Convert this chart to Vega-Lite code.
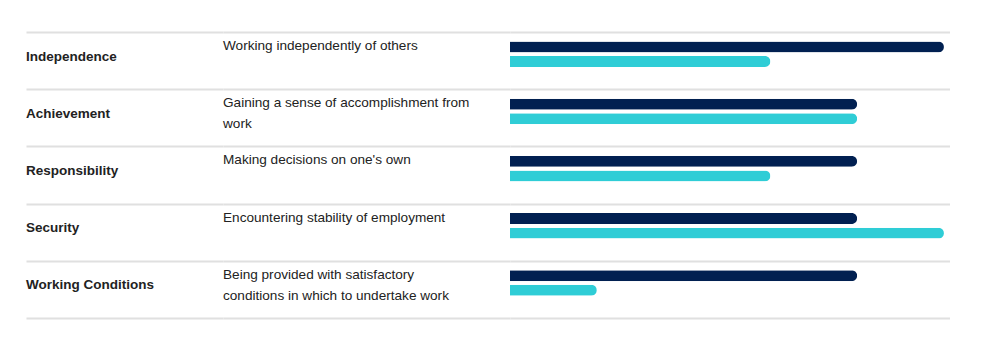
{
  "$schema": "https://vega.github.io/schema/vega-lite/v6.json",
  "padding": {"left": 26, "top": 32, "right": 0, "bottom": 6},
  "background": "white",
  "spacing": 0,
  "config": {"view": {"stroke": null}, "font": "Liberation Sans", "concat": {"spacing": 0}},
  "datasets": {
    "rows": [
      {"factor": "Independence", "description": "Working independently of others"},
      {"factor": "Achievement", "description": "Gaining a sense of accomplishment from\nwork"},
      {"factor": "Responsibility", "description": "Making decisions on one's own"},
      {"factor": "Security", "description": "Encountering stability of employment"},
      {"factor": "Working Conditions", "description": "Being provided with satisfactory\nconditions in which to undertake work"}
    ],
    "scores": [
      {"factor": "Independence", "series": "A", "value": 5},
      {"factor": "Independence", "series": "B", "value": 3},
      {"factor": "Achievement", "series": "A", "value": 4},
      {"factor": "Achievement", "series": "B", "value": 4},
      {"factor": "Responsibility", "series": "A", "value": 4},
      {"factor": "Responsibility", "series": "B", "value": 3},
      {"factor": "Security", "series": "A", "value": 4},
      {"factor": "Security", "series": "B", "value": 5},
      {"factor": "Working Conditions", "series": "A", "value": 4},
      {"factor": "Working Conditions", "series": "B", "value": 1}
    ]
  },
  "hconcat": [
    {
      "width": 197,
      "height": 286,
      "data": {"name": "rows"},
      "mark": {"type": "text", "align": "left", "baseline": "alphabetic", "fontWeight": "bold", "fontSize": 13.5, "color": "#222222", "dy": 28.5},
      "encoding": {
        "y": {"field": "factor", "type": "nominal", "sort": null, "bandPosition": 0,
          "scale": {"type": "band", "paddingInner": 0, "paddingOuter": 0},
          "axis": {"title": null, "labels": false, "ticks": false, "domain": false, "grid": true, "tickBand": "extent", "gridColor": "#e0e0e0", "gridWidth": 2}},
        "x": {"value": 0},
        "text": {"field": "factor"}
      }
    },
    {
      "width": 287,
      "height": 286,
      "data": {"name": "rows"},
      "mark": {"type": "text", "align": "left", "baseline": "alphabetic", "fontSize": 13.6, "color": "#222222", "dy": 18, "lineBreak": "\n", "lineHeight": 21},
      "encoding": {
        "y": {"field": "factor", "type": "nominal", "sort": null, "bandPosition": 0,
          "scale": {"type": "band", "paddingInner": 0, "paddingOuter": 0},
          "axis": {"title": null, "labels": false, "ticks": false, "domain": false, "grid": true, "tickBand": "extent", "gridColor": "#e0e0e0", "gridWidth": 2}},
        "x": {"value": 0},
        "text": {"field": "description"}
      }
    },
    {
      "width": 440,
      "height": 286,
      "data": {"name": "scores"},
      "mark": {"type": "bar", "cornerRadiusEnd": 5.5},
      "encoding": {
        "y": {"field": "factor", "type": "nominal", "sort": null,
          "scale": {"type": "band", "paddingInner": 0, "paddingOuter": 0},
          "axis": {"title": null, "labels": false, "ticks": false, "domain": false, "grid": true, "tickBand": "extent", "gridColor": "#e0e0e0", "gridWidth": 2}},
        "yOffset": {"field": "series", "type": "nominal", "scale": {"range": [9.5, 35], "paddingInner": 0.25, "paddingOuter": 0}},
        "x": {"field": "value", "type": "quantitative", "scale": {"domain": [0, 5.07], "nice": false, "zero": true}, "axis": null},
        "color": {"field": "series", "type": "nominal", "scale": {"domain": ["A", "B"], "range": ["#012051", "#2fcdd6"]}, "legend": null}
      }
    }
  ]
}
